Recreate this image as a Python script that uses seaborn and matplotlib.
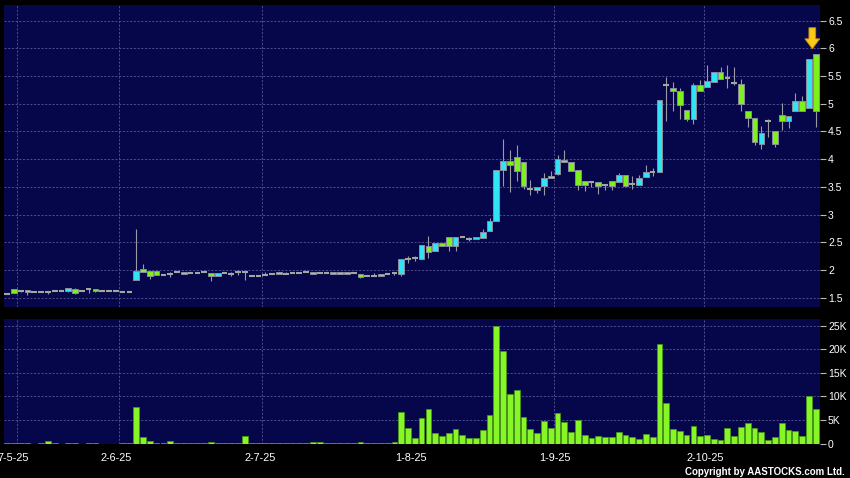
import numpy as np
import pandas as pd
import matplotlib
matplotlib.use("Agg")
import matplotlib.pyplot as plt
import seaborn as sns

# ---------------- data ----------------
opens = [1.57, 1.65, 1.62, 1.64, 1.60, 1.60, 1.60, 1.615, 1.625, 1.615,
         1.66, 1.625, 1.65, 1.65, 1.62, 1.62, 1.62, 1.60, 1.61, 1.82,
         2.02, 1.975, 1.975, 1.91, 1.93, 1.96, 1.97, 1.94, 1.95, 1.96,
         1.945, 1.90, 1.94, 1.93, 1.96, 1.96, 1.89, 1.90, 1.91, 1.92,
         1.96, 1.93, 1.945, 1.94, 1.96, 1.96, 1.94, 1.945, 1.92, 1.96,
         1.96, 1.94, 1.92, 1.90, 1.89, 1.885, 1.92, 1.94, 1.92, 2.19,
         2.21, 2.195, 2.44, 2.35, 2.48, 2.59, 2.44, 2.59, 2.56, 2.56,
         2.57, 2.71, 2.89, 3.81, 3.96, 4.04, 3.95, 3.46, 3.45, 3.51,
         3.69, 3.74, 3.99, 3.95, 3.80, 3.60, 3.58, 3.58, 3.54, 3.61,
         3.58, 3.71, 3.55, 3.54, 3.68, 3.77, 3.77, 5.34, 5.28, 5.22,
         4.89, 4.72, 5.34, 5.30, 5.39, 5.57, 5.46, 5.38, 5.36, 4.86,
         4.75, 4.28, 4.68, 4.51, 4.80, 4.68, 4.86, 5.05, 4.92, 5.89]
highs = [1.58, 1.65, 1.63, 1.64, 1.60, 1.60, 1.60, 1.615, 1.625, 1.68,
         1.67, 1.625, 1.65, 1.65, 1.62, 1.62, 1.62, 1.60, 1.61, 2.74,
         2.11, 1.975, 1.975, 1.91, 1.97, 1.96, 1.97, 1.94, 1.95, 1.96,
         1.945, 1.945, 1.94, 1.955, 2.00, 1.96, 1.89, 1.90, 1.96, 1.92,
         1.96, 1.955, 1.945, 1.97, 1.96, 1.96, 1.94, 1.945, 1.96, 1.96,
         1.96, 1.97, 1.92, 1.90, 1.94, 1.92, 1.92, 1.94, 2.19, 2.25,
         2.25, 2.45, 2.62, 2.48, 2.48, 2.59, 2.59, 2.59, 2.60, 2.59,
         2.74, 2.93, 3.81, 4.37, 4.16, 4.26, 3.95, 3.63, 3.49, 3.75,
         3.78, 4.07, 4.17, 3.95, 3.80, 3.60, 3.58, 3.58, 3.54, 3.61,
         3.75, 3.71, 3.69, 3.72, 3.90, 3.84, 5.07, 5.48, 5.39, 5.28,
         4.89, 5.37, 5.43, 5.69, 5.57, 5.66, 5.70, 5.66, 5.45, 4.86,
         4.75, 4.60, 4.72, 4.51, 5.02, 4.78, 5.20, 5.14, 5.81, 5.89]
lows = [1.56, 1.58, 1.61, 1.555, 1.60, 1.60, 1.57, 1.615, 1.625, 1.61,
        1.575, 1.625, 1.59, 1.61, 1.62, 1.62, 1.62, 1.60, 1.61, 1.82,
        1.97, 1.83, 1.915, 1.91, 1.88, 1.96, 1.93, 1.94, 1.95, 1.96,
        1.81, 1.90, 1.94, 1.90, 1.91, 1.82, 1.89, 1.90, 1.91, 1.92,
        1.92, 1.93, 1.945, 1.94, 1.96, 1.92, 1.94, 1.945, 1.92, 1.92,
        1.92, 1.94, 1.86, 1.90, 1.89, 1.885, 1.92, 1.91, 1.90, 2.13,
        2.16, 2.195, 2.21, 2.35, 2.44, 2.35, 2.35, 2.59, 2.53, 2.56,
        2.57, 2.71, 2.89, 3.52, 3.40, 3.60, 3.46, 3.36, 3.39, 3.36,
        3.66, 3.72, 3.95, 3.78, 3.45, 3.42, 3.50, 3.37, 3.45, 3.45,
        3.58, 3.52, 3.46, 3.54, 3.68, 3.69, 3.77, 4.68, 4.87, 4.72,
        4.69, 4.64, 5.22, 5.30, 5.39, 5.45, 5.28, 5.33, 4.87, 4.58,
        4.26, 4.19, 4.39, 4.21, 4.52, 4.56, 4.86, 4.87, 4.92, 4.58]
closes = [1.57, 1.59, 1.62, 1.60, 1.60, 1.60, 1.60, 1.615, 1.625, 1.675,
          1.59, 1.625, 1.65, 1.615, 1.62, 1.62, 1.62, 1.60, 1.61, 1.99,
          1.97, 1.90, 1.915, 1.91, 1.93, 1.96, 1.93, 1.94, 1.95, 1.96,
          1.90, 1.945, 1.94, 1.93, 1.96, 1.96, 1.89, 1.90, 1.91, 1.92,
          1.92, 1.93, 1.945, 1.94, 1.96, 1.92, 1.94, 1.945, 1.96, 1.92,
          1.92, 1.94, 1.88, 1.90, 1.89, 1.92, 1.92, 1.94, 2.19, 2.19,
          2.21, 2.45, 2.32, 2.48, 2.44, 2.44, 2.59, 2.59, 2.56, 2.59,
          2.68, 2.89, 3.81, 3.96, 3.90, 3.78, 3.52, 3.46, 3.49, 3.66,
          3.66, 4.00, 3.95, 3.78, 3.54, 3.54, 3.58, 3.52, 3.54, 3.51,
          3.71, 3.52, 3.55, 3.66, 3.77, 3.77, 5.07, 5.34, 5.22, 4.98,
          4.72, 5.34, 5.22, 5.40, 5.57, 5.45, 5.46, 5.38, 4.99, 4.75,
          4.31, 4.47, 4.68, 4.28, 4.68, 4.78, 5.04, 4.87, 5.81, 4.87]
volumes_k = [0.1, 0.1, 0.05, 0.1, 0.0, 0.05, 0.5, 0.05, 0.0, 0.1,
             0.15, 0.0, 0.1, 0.1, 0.0, 0.0, 0.0, 0.05, 0.1, 7.66,
             1.4, 0.5, 0.2, 0.2, 0.5, 0.15, 0.15, 0.05, 0.05, 0.05,
             0.3, 0.1, 0.05, 0.1, 0.2, 1.6, 0.1, 0.05, 0.2, 0.1,
             0.1, 0.1, 0.2, 0.1, 0.1, 0.3, 0.3, 0.1, 0.1, 0.2,
             0.1, 0.1, 0.3, 0.2, 0.1, 0.1, 0.1, 0.3, 6.6, 3.2,
             1.2, 5.5, 7.3, 2.2, 1.6, 2.2, 3.0, 1.8, 1.2, 1.2,
             2.8, 6.0, 25.0, 19.7, 10.5, 11.3, 5.7, 3.0, 2.2, 4.75,
             3.2, 6.45, 4.6, 2.35, 4.9, 1.9, 1.2, 1.5, 1.35, 1.4,
             2.4, 1.8, 1.35, 0.9, 2.05, 1.35, 21.1, 8.7, 3.05, 2.6,
             1.8, 3.8, 1.55, 1.9, 0.9, 0.7, 3.3, 1.5, 3.6, 4.3,
             3.3, 2.4, 0.7, 1.35, 4.45, 2.85, 2.7, 1.6, 10.1, 7.3]
date_labels = ["7-5-25", "2-6-25", "2-7-25", "1-8-25", "1-9-25", "2-10-25"]
label_pos = [0.9, 16.1, 37.2, 59.5, 80.6, 102.8]
month_grid = [1.5, 16.5, 37.5, 59.5, 80.5, 102.5]
price_ticks = [1.5, 2.0, 2.5, 3.0, 3.5, 4.0, 4.5, 5.0, 5.5, 6.0, 6.5]
vol_ticks = [0, 5, 10, 15, 20, 25]

# ---------------- styling ----------------
BG = "#06064a"
CYAN = "#30e4f4"
GREEN = "#7ef01e"
LIME = "#86f626"
EDGE = "#8c8c9c"
WICK = "#9a9aa6"
DOJI = "#a0a8a0"
GRID = "#4c4c8c"
GOLD = "#f8c81a"

sns.set_theme(style="dark", rc={"axes.facecolor": BG, "figure.facecolor": "black"})
plt.rcParams["font.family"] = ["Liberation Sans", "DejaVu Sans"]

df = pd.DataFrame({"i": np.arange(len(opens)), "open": opens, "high": highs,
                   "low": lows, "close": closes, "vol": volumes_k})
o = df["open"].to_numpy(); c = df["close"].to_numpy()
idx = df["i"].to_numpy()
up = c > o
down = c < o
flat = c == o

W, H = 850, 478
fig = plt.figure(figsize=(W / 100, H / 100), dpi=100, facecolor="black")
left, right = 3.5, 820
axp = fig.add_axes([left / W, (H - 307) / H, (right - left) / W, (307 - 5) / H])
axv = fig.add_axes([left / W, (H - 443.5) / H, (right - left) / W, (443.5 - 319) / H], sharex=axp)

# ---- price panel ----
axp.vlines(idx, df["low"], df["high"], color=WICK, lw=0.8, zorder=2)
bw = 0.84
axp.bar(idx[up], (c - o)[up], bottom=o[up], width=bw, color=CYAN,
        edgecolor=EDGE, linewidth=0.7, zorder=3)
axp.bar(idx[down], (o - c)[down], bottom=c[down], width=bw, color=GREEN,
        edgecolor=EDGE, linewidth=0.7, zorder=3)
axp.hlines(o[flat], idx[flat] - bw / 2, idx[flat] + bw / 2, color=DOJI, lw=1.5, zorder=3)

# marker arrow above the latest bar
ax_x = idx[-1] - 0.5
tip = max(highs[-2:]) + 0.1
axp.arrow(ax_x, tip + 0.38, 0, -0.38, width=1.0, head_width=2.2, head_length=0.18,
          length_includes_head=True, fc=GOLD, ec="#c88a00", lw=0.6, zorder=5)

# ---- volume panel ----
sns.barplot(data=df, x="i", y="vol", native_scale=True, color=LIME, width=0.85,
            edgecolor="#4a9a14", linewidth=0.5, errorbar=None, saturation=1, ax=axv)

for ax in (axp, axv):
    ax.set_facecolor(BG)
    for s in ax.spines.values():
        s.set_visible(False)
    ax.yaxis.tick_right()
    ax.tick_params(axis="y", which="major", direction="out", length=4, width=0.8,
                   color="#b8b8b8", labelcolor="white", labelsize=7.5, pad=1.8,
                   left=False, right=True)
    ax.set_xticks(month_grid, minor=True)
    ax.grid(False)
    ax.grid(True, which="minor", axis="x", color=GRID, lw=0.7, linestyle=(0, (2.2, 1.6)))
    ax.grid(True, which="major", axis="y", color=GRID, lw=0.7, linestyle=(0, (2.2, 1.6)))
    ax.set_xlabel("")
    ax.set_ylabel("")

axp.set_xlim(-0.53, 119.63)
axp.set_ylim(1.332, 6.78)
axp.set_yticks(price_ticks)
axp.set_yticklabels([f"{t:g}" for t in price_ticks])
axp.tick_params(axis="x", which="both", bottom=False, labelbottom=False)

axv.set_ylim(0, 26.46)
axv.set_yticks(vol_ticks)
axv.set_yticklabels(["0" if t == 0 else f"{t}K" for t in vol_ticks])
axv.set_xticks(label_pos)
axv.set_xticklabels(date_labels)
axv.tick_params(axis="x", which="major", direction="out", length=3, width=0.8,
                color="#b8b8b8", labelcolor="white", labelsize=7.8, pad=3.5)
axv.tick_params(axis="x", which="minor", bottom=False)
axv.set_xlim(-0.53, 119.63)

fig.text(845 / W, 1 - 472 / H, "Copyright by AASTOCKS.com Ltd.", ha="right", va="center",
         color="white", fontsize=7, fontweight="bold")

fig.savefig("out.png", dpi=100, facecolor="black")
